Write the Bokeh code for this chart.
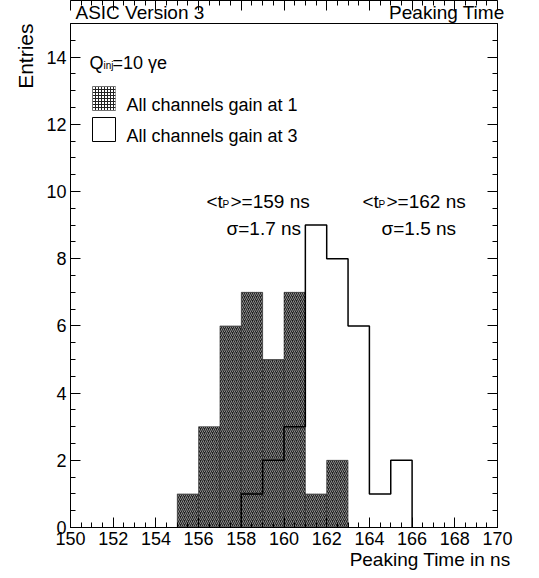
from bokeh.plotting import figure
from bokeh.models import (Range1d, LinearAxis, SingleIntervalTicker, Label,
                          CustomJSTickFormatter, Title)
from bokeh.embed import file_html
from bokeh.resources import INLINE

# ---- data ----
gain1_left_edges = [155, 156, 157, 158, 159, 160, 161, 162]
gain1_counts = [1, 3, 6, 7, 5, 7, 1, 2]
gain3_left_edges = [158, 159, 160, 161, 162, 163, 164, 165]
gain3_counts = [1, 2, 3, 9, 8, 6, 1, 2]
bin_width = 1
x_min, x_max = 150, 170
y_min, y_max = 0, 15
title_left = "ASIC Version 3"
title_right = "Peaking Time"
y_label = "Entries"
x_label = "Peaking Time in ns"
legend_1 = "All channels gain at 1"
legend_3 = "All channels gain at 3"
mean_1 = ">=159 ns"
sigma_1 = "σ=1.7 ns"
mean_3 = ">=162 ns"
sigma_3 = "σ=1.5 ns"

FONT = "Liberation Sans"
W, H = 539, 578
L, R, T, B = 70, 497, 23, 527


def X(px):
    return x_min + (px - L) * (x_max - x_min) / (R - L)


def Y(py):
    return y_min + (B - py) * (y_max - y_min) / (B - T)


p = figure(width=W, height=H, output_backend="svg", toolbar_location=None,
           x_range=Range1d(x_min, x_max), y_range=Range1d(y_min, y_max),
           min_border_left=L, min_border_right=W - R,
           min_border_top=T, min_border_bottom=H - B,
           x_axis_location=None, y_axis_location=None)
p.grid.visible = False
p.background_fill_color = "white"
p.border_fill_color = "white"
p.outline_line_color = "black"
p.outline_line_width = 1


def make_axis(show_labels):
    ax = LinearAxis(ticker=SingleIntervalTicker(interval=2, num_minor_ticks=4))
    ax.axis_line_color = "black"
    ax.major_tick_line_color = "black"
    ax.minor_tick_line_color = "black"
    ax.major_tick_in = 10
    ax.major_tick_out = 0
    ax.minor_tick_in = 5
    ax.minor_tick_out = 0
    ax.major_label_text_font = FONT
    ax.major_label_text_font_size = "18px"
    ax.major_label_text_color = "black"
    if not show_labels:
        ax.formatter = CustomJSTickFormatter(code="return ''")
        ax.major_label_text_font_size = "1px"
        ax.major_label_standoff = 0
    return ax


# outer texts as titles (they live in the side panels)
nbsp = "\u00a0" * 35
top_title = Title(text=title_left + nbsp + title_right, align="left",
                  vertical_align="middle", standoff=0, offset=5,
                  text_font=FONT, text_font_size="19px",
                  text_font_style="normal", text_color="black")
p.add_layout(top_title, "above")

bx = make_axis(True)
bx.major_label_standoff = 4
p.add_layout(bx, "below")
ly = make_axis(True)
ly.major_label_standoff = 4
p.add_layout(ly, "left")
p.add_layout(make_axis(False), "above")
p.add_layout(make_axis(False), "right")

p.add_layout(Title(text=x_label, align="right", vertical_align="top",
                   standoff=3, offset=-13, text_font=FONT, text_font_size="19px",
                   text_font_style="normal", text_color="black"), "below")
p.add_layout(Title(text=y_label, align="right", vertical_align="top",
                   standoff=10, offset=0, text_font=FONT, text_font_size="21px",
                   text_font_style="normal", text_color="black"), "left")

# gain 1 histogram (hatched dark)
g1_right = [e + bin_width for e in gain1_left_edges]
p.quad(left=gain1_left_edges, right=g1_right, bottom=0, top=gain1_counts,
       fill_color="#202020", line_color="#202020", line_width=0.5,
       hatch_pattern="/", hatch_color="#8c8c8c", hatch_scale=4, hatch_weight=1)

# gain 3 histogram outline
xs, ys = [gain3_left_edges[0]], [0]
for e, c in zip(gain3_left_edges, gain3_counts):
    xs += [e, e + bin_width]
    ys += [c, c]
xs.append(gain3_left_edges[-1] + bin_width)
ys.append(0)
p.line(xs, ys, line_color="black", line_width=1.5)

# legend boxes
p.quad(left=[X(92)], right=[X(115)], bottom=[Y(110)], top=[Y(86)],
       fill_color="white", line_color="#555555", line_width=0.5,
       hatch_pattern="+", hatch_color="#222222", hatch_scale=3, hatch_weight=1)
p.quad(left=[X(92)], right=[X(115)], bottom=[Y(141)], top=[Y(117)],
       fill_color="white", line_color="black", line_width=1)


def lab(px, py, text, size="18px", align="left", baseline="alphabetic"):
    p.add_layout(Label(x=X(px), y=Y(py), text=text, text_font=FONT,
                       text_font_size=size, text_color="black",
                       text_align=align, text_baseline=baseline))


# Q_inj = 10 gamma e
lab(89, 62, "Q")
lab(103, 65, "inj", size="10px")
lab(112, 62, "=10 γe")

lab(126, 104, legend_1)
lab(126, 135, legend_3)

# mean / sigma annotations
lab(206, 201, "<t", size="19px")
lab(222, 204, "P", size="10px")
lab(230, 201, mean_1, size="19px")
lab(226, 228, sigma_1, size="19px")
lab(362, 201, "<t", size="19px")
lab(378, 204, "P", size="10px")
lab(386, 201, mean_3, size="19px")
lab(381, 228, sigma_3, size="19px")

open("out.html", "w").write(file_html(p, INLINE))
